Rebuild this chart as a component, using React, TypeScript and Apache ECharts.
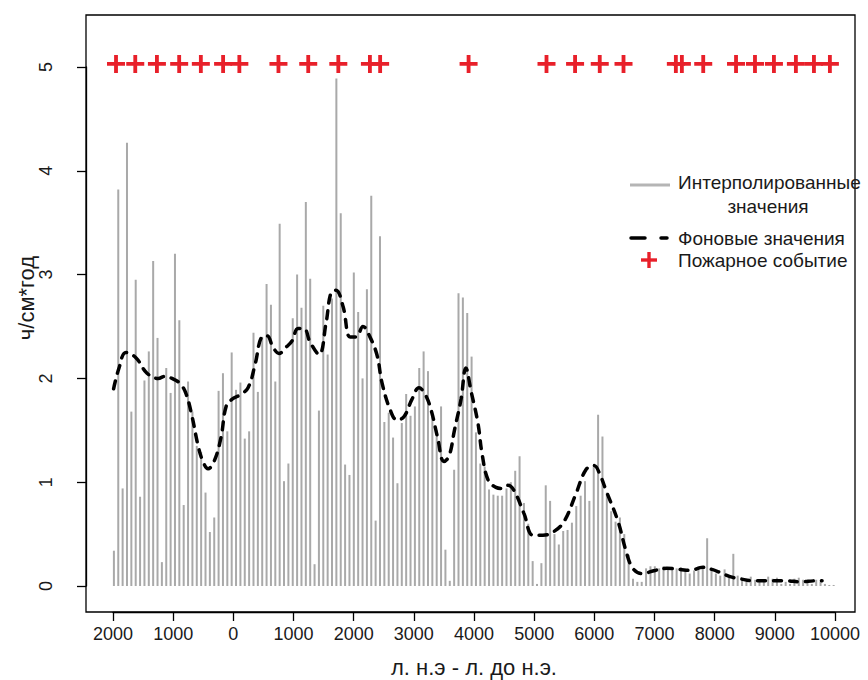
import React, { useEffect, useRef } from "react";
import * as echarts from "echarts";

// ---- Data ----
const X_MIN = -2000; // negative = years AD, positive = years BC
const X_MAX = 10000;
const X_TICK_LABELS = ["2000", "1000", "0", "1000", "2000", "3000", "4000", "5000", "6000", "7000", "8000", "9000", "10000"];
const Y_TICK_LABELS = ["0", "1", "2", "3", "4", "5"];

// interpolated values: first sample year and sampling step (years)
const BAR_START_YEAR = -1985;
const BAR_STEP = 72.5;
const barValues = [
  0.34, 3.82, 0.94, 4.27, 1.68, 2.95, 0.86, 1.98, 2.26, 3.13, 2.39, 0.23, 2.10, 1.86, 3.20, 2.56, 0.78, 1.97, 1.68, 1.35, 1.29, 0.90, 0.52, 0.66, 1.88, 2.05,
  1.49, 2.25, 1.89, 1.96, 1.42, 1.49, 2.44, 1.87, 2.40, 2.91, 2.71, 1.97, 3.49, 1.01, 1.18, 2.58, 3.00, 2.68, 3.70, 2.96, 0.21, 1.69, 2.70, 2.23, 2.77, 4.89, 3.59, 1.17, 1.07,
  3.02, 2.64, 2.00, 2.86, 3.76, 0.63, 3.37, 1.58, 1.67, 1.43, 0.99, 1.57, 1.85, 1.64, 1.73, 2.10, 2.26, 2.07, 1.63, 1.50, 1.73, 0.35, 0.05, 1.12, 2.82, 2.78, 2.63,
  2.21, 1.48, 1.18, 1.15, 0.93, 0.88, 0.87, 0.87, 0.94, 1.00, 1.11, 1.25, 0.80, 0.60, 0.24, 0.02, 0.22, 0.97, 0.82, 0.50, 0.40, 0.53, 0.54, 0.61, 0.77, 0.87, 1.01, 0.82, 1.15, 1.65,
  1.44, 0.90, 0.72, 0.62, 0.66, 0.50, 0.30, 0.07, 0.04, 0.04,
  0.17, 0.19, 0.19, 0.17, 0.19, 0.17, 0.16, 0.17, 0.18, 0.16, 0.12, 0.15, 0.19, 0.18, 0.46, 0.17, 0.12, 0.10, 0.16, 0.08, 0.31, 0.10, 0.06, 0.04, 0.09, 0.06, 0.05, 0.06, 0.09, 0.07, 0.08, 0.02, 0.04, 0.02, 0.07, 0.08, 0.06, 0.04, 0.02, 0.06, 0.04, 0.02, 0.01, 0.01,
];

// background values (dashed curve)
const bgYears = [
  -1990, -1900, -1785, -1620, -1435, -1250, -1135, -1020, -885, -785, -685, -585, -505, -420, -320, -205, -120, -20,
  110, 245, 360, 475, 560, 660, 760, 875, 975, 1075, 1175, 1275, 1425, 1540, 1625, 1705, 1825, 1940, 2040, 2155, 2270,
  2390, 2470, 2605, 2720, 2835, 2970, 3085, 3185, 3285, 3395, 3500, 3585, 3675, 3785, 3865, 3950, 4065, 4135, 4235,
  4365, 4465, 4565, 4665, 4830, 4980, 5145, 5315, 5495, 5695, 5860, 5995, 6095, 6195, 6395, 6525, 6640, 6790, 7010,
  7205, 7425, 7590, 7805, 7955, 8090, 8255, 8420, 8635, 8920, 9185, 9420, 9685, 9785,
];
const bgValues = [
  1.90, 2.10, 2.25, 2.20, 2.05, 2.00, 2.02, 2.00, 1.95, 1.85, 1.63, 1.35, 1.20, 1.13, 1.20, 1.43, 1.73, 1.80,
  1.84, 1.91, 2.13, 2.40, 2.41, 2.30, 2.24, 2.30, 2.36, 2.48, 2.48, 2.35, 2.23, 2.53, 2.83, 2.85, 2.69, 2.40, 2.40, 2.50, 2.40,
  2.22, 1.96, 1.70, 1.60, 1.63, 1.80, 1.91, 1.85, 1.70, 1.43, 1.20, 1.25, 1.50, 1.80, 2.10, 1.88, 1.57, 1.27, 1.02,
  0.95, 0.94, 0.97, 0.92, 0.70, 0.49, 0.49, 0.52, 0.62, 0.89, 1.12, 1.16, 1.07, 0.92, 0.62, 0.34, 0.17, 0.12, 0.15,
  0.17, 0.16, 0.15, 0.18, 0.16, 0.13, 0.09, 0.07, 0.05, 0.05, 0.05, 0.04, 0.05, 0.05,
];

// fire events
const fireYears = [-1950, -1630, -1270, -900, -540, -170, 100, 750, 1245, 1745, 2270, 2440, 3910, 5205, 5680, 6090, 6485, 7355, 7455, 7810, 8355, 8670, 8985, 9350, 9650, 9915];
const FIRE_LEVEL = 5.03;

const LEGEND_LABELS = ["Интерполированные", "значения", "Фоновые значения", "Пожарное событие"];
const X_TITLE = "л. н.э - л. до н.э.";
const Y_TITLE = "ч/см*год";

const FONT = '"Liberation Sans", Arial, sans-serif';
const TEXT = "#1a1a1a";
const RED = "#e8202a";

export default function App() {
  const ref = useRef<HTMLDivElement>(null);

  useEffect(() => {
    if (!ref.current) return;
    const chart = echarts.init(ref.current, undefined, { renderer: "svg" });

    const barData = barValues.map((v, i) => [BAR_START_YEAR + i * BAR_STEP, v]);
    const bgData = bgYears.map((y, i) => [y, bgValues[i]]);
    const fireData = fireYears.map((y) => [y, FIRE_LEVEL]);

    const option: any = {
      animation: false,
      backgroundColor: "#fff",
      grid: { left: 113, right: 33, top: 67, bottom: 94, containLabel: false },
      xAxis: {
        type: "value",
        min: X_MIN,
        max: X_MAX,
        interval: 1000,
        offset: 26,
        axisLine: { show: true, onZero: false, lineStyle: { color: "#000", width: 1.3 } },
        axisTick: { show: true, length: 9, lineStyle: { color: "#000", width: 1.3 } },
        axisLabel: {
          margin: 13,
          fontFamily: FONT,
          fontSize: 18,
          color: TEXT,
          formatter: (v: number) => X_TICK_LABELS[Math.round((v - X_MIN) / 1000)] ?? "",
        },
        splitLine: { show: false },
      },
      yAxis: {
        type: "value",
        min: 0,
        max: 5,
        interval: 1,
        offset: 27,
        axisLine: { show: true, onZero: false, lineStyle: { color: "#000", width: 1.3 } },
        axisTick: { show: true, length: 9, lineStyle: { color: "#000", width: 1.3 } },
        axisLabel: {
          margin: 31,
          rotate: 90,
          fontFamily: FONT,
          fontSize: 18,
          color: TEXT,
          formatter: (v: number) => Y_TICK_LABELS[Math.round(v)] ?? "",
        },
        splitLine: { show: false },
      },
      series: [
        {
          type: "bar",
          data: barData,
          barWidth: 2,
          itemStyle: { color: "#a9a9a9" },
          z: 1,
        },
        {
          type: "line",
          data: bgData,
          smooth: 0.4,
          showSymbol: false,
          symbol: "none",
          lineStyle: { color: "#000", width: 3.5, type: [8, 8], cap: "round" },
          z: 3,
        },
        {
          type: "scatter",
          data: fireData,
          clip: false,
          symbol: "path://M-1.7,-8H1.7V-1.7H8V1.7H1.7V8H-1.7V1.7H-8V-1.7H-1.7Z",
          symbolSize: 18,
          symbolKeepAspect: true,
          itemStyle: { color: RED, opacity: 1 },
          z: 4,
        },
      ],
      graphic: [
        {
          type: "rect",
          shape: { x: 86, y: 15, width: 769, height: 597 },
          style: { fill: "none", stroke: "#000", lineWidth: 1.3 },
          silent: true,
        },
        // legend
        {
          type: "line",
          shape: { x1: 630, y1: 185, x2: 670, y2: 185 },
          style: { stroke: "#b5b5b5", lineWidth: 3 },
        },
        {
          type: "text",
          x: 678,
          y: 182,
          style: { text: LEGEND_LABELS[0], font: `19px ${FONT}`, fill: TEXT, textAlign: "left", textVerticalAlign: "middle", verticalAlign: "middle" },
        },
        {
          type: "text",
          x: 768,
          y: 206,
          style: { text: LEGEND_LABELS[1], font: `19px ${FONT}`, fill: TEXT, textAlign: "center", textVerticalAlign: "middle", verticalAlign: "middle" },
        },
        {
          type: "line",
          shape: { x1: 631, y1: 238, x2: 645, y2: 238 },
          style: { stroke: "#000", lineWidth: 3.5, lineCap: "round" },
        },
        {
          type: "line",
          shape: { x1: 661, y1: 238, x2: 667, y2: 238 },
          style: { stroke: "#000", lineWidth: 3.5, lineCap: "round" },
        },
        {
          type: "text",
          x: 678,
          y: 238,
          style: { text: LEGEND_LABELS[2], font: `19px ${FONT}`, fill: TEXT, textAlign: "left", textVerticalAlign: "middle", verticalAlign: "middle" },
        },
        {
          type: "rect",
          shape: { x: 641, y: 258.3, width: 16, height: 3.4 },
          style: { fill: RED },
        },
        {
          type: "rect",
          shape: { x: 647.3, y: 252, width: 3.4, height: 16 },
          style: { fill: RED },
        },
        {
          type: "text",
          x: 678,
          y: 260,
          style: { text: LEGEND_LABELS[3], font: `19px ${FONT}`, fill: TEXT, textAlign: "left", textVerticalAlign: "middle", verticalAlign: "middle" },
        },
        // axis titles
        {
          type: "text",
          x: 474,
          y: 667,
          style: { text: X_TITLE, font: `22px ${FONT}`, fill: TEXT, textAlign: "center", textVerticalAlign: "middle", verticalAlign: "middle" },
        },
        {
          type: "text",
          x: 26,
          y: 298,
          rotation: Math.PI / 2,
          style: { text: Y_TITLE, font: `22px ${FONT}`, fill: TEXT, textAlign: "center", textVerticalAlign: "middle", verticalAlign: "middle" },
        },
      ],
    };

    chart.setOption(option);
    return () => chart.dispose();
  }, []);

  return (
    <div
      ref={ref}
      style={{ position: "fixed", left: 0, top: 0, width: 868, height: 680, background: "#fff" }}
    />
  );
}
